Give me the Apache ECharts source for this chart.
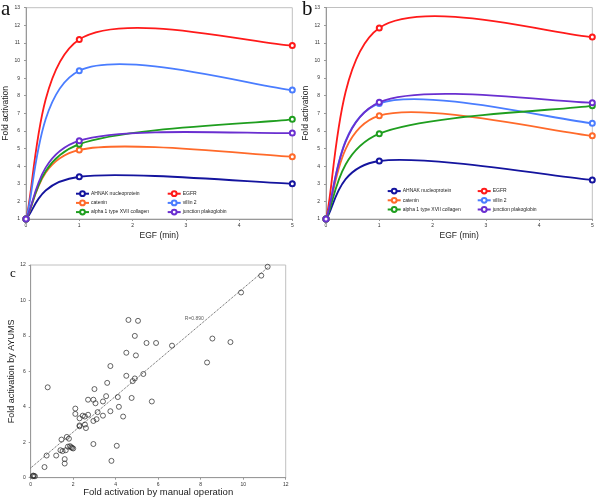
<!DOCTYPE html>
<html>
<head>
<meta charset="utf-8">
<script src="https://cdn.jsdelivr.net/npm/echarts@6/dist/echarts.min.js"></script>
<style>
html, body { margin: 0; padding: 0; background: #fff; }
#main { width: 600px; height: 502px; }
</style>
</head>
<body>
<div id="main"></div>
<script>
// time points (min)
var egfTimes = [0, 1, 5];
var proteins = ['AHNAK nucleoprotein', 'EGFR', 'catenin', 'villin 2', 'alpha 1 type XVII collagen', 'junction plakoglobin'];
var colors = ['#14149e', '#ff1a1a', '#ff6a2a', '#4a7dff', '#1f9e1f', '#6a2fd0'];

// fold activation, panel a (one row per protein, at egfTimes)
var foldA = [
    [1, 3.4, 3.0],
    [1, 11.2, 10.85],
    [1, 4.92, 4.54],
    [1, 9.42, 8.32],
    [1, 5.25, 6.66],
    [1, 5.45, 5.88]
];
// panel b
var foldB = [
    [1, 4.29, 3.21],
    [1, 11.84, 11.33],
    [1, 6.86, 5.72],
    [1, 7.56, 6.43],
    [1, 5.84, 7.42],
    [1, 7.62, 7.6]
];

// panel c: manual operation vs AYUMS
var manualOp = [0.8, 4.6, 5.05, 4.9, 5.45, 5.9, 6.65, 4.5, 4.95, 3.75, 4.5, 5.3, 3.6, 4.9, 4.8, 3.0,
    3.55, 2.7, 2.95, 3.05, 3.4, 4.1, 4.75, 5.7, 4.15, 2.1, 2.1, 2.7, 3.15, 3.75, 3.4, 4.35, 2.45,
    2.55, 2.3, 2.3, 2.55, 2.3, 2.6, 2.95, 3.1, 1.45, 1.7, 1.8, 2.95, 4.05, 3.8, 1.4, 1.5, 1.65,
    1.75, 1.85, 1.9, 2.0, 1.95, 1.2, 0.75, 0.65, 1.6, 1.6, 0.1, 0.15, 0.2, 0.12, 10.85, 11.15,
    9.9, 8.55, 9.4, 8.3];
var ayums = [5.1, 8.9, 8.85, 8.0, 7.6, 7.6, 7.45, 7.05, 6.9, 6.3, 5.75, 5.85, 5.35, 5.6, 5.45, 5.0,
    4.6, 4.4, 4.4, 4.2, 4.3, 4.55, 4.5, 4.3, 4.0, 3.9, 3.6, 3.55, 3.7, 3.75, 3.5, 3.45, 3.5,
    3.45, 3.35, 2.95, 3.0, 2.9, 2.8, 3.2, 3.3, 2.15, 2.3, 2.2, 1.9, 1.8, 0.95, 1.55, 1.5, 1.55,
    1.75, 1.78, 1.72, 1.65, 1.68, 1.25, 1.25, 0.6, 1.05, 0.8, 0.08, 0.1, 0.08, 0.12, 11.4, 11.9,
    10.45, 7.85, 7.65, 6.5];
var fitLine = [[0, 0.55], [11.2, 11.9]];
var fitLabel = 'R=0.890';
var fitLabelAt = [7.7, 8.95];

var FONT = '"Liberation Sans", Arial, sans-serif';
var chart = echarts.init(document.getElementById('main'));

// excel-like smoothed curve through the points of one protein
function curveRenderer(ys, color) {
    return function (params, api) {
        if (params.dataIndex !== 0) return;
        var p = egfTimes.map(function (x, i) { return api.coord([x, ys[i]]); });
        var d = 'M' + p[0][0] + ' ' + p[0][1];
        for (var i = 0; i < p.length - 1; i++) {
            var a = p[i - 1] || p[i], b = p[i], c = p[i + 1], e = p[i + 2] || p[i + 1];
            var c1x = b[0] + (c[0] - a[0]) / 6, c1y = b[1] + (c[1] - a[1]) / 6;
            var c2x = c[0] - (e[0] - b[0]) / 6, c2y = c[1] - (e[1] - b[1]) / 6;
            d += ' C' + c1x + ' ' + c1y + ' ' + c2x + ' ' + c2y + ' ' + c[0] + ' ' + c[1];
        }
        return {
            type: 'path',
            shape: { pathData: d },
            style: { fill: null, stroke: color, lineWidth: 1.8 }
        };
    };
}

function axisBase(min, max, interval, name, nameGap, nameSize, labelSize, labelMargin) {
    return {
        type: 'value', min: min, max: max, interval: interval,
        name: name, nameLocation: 'middle', nameGap: nameGap,
        nameTextStyle: { fontSize: nameSize, fontFamily: FONT, color: '#222' },
        axisLine: { lineStyle: { color: '#999', width: 1 } },
        axisTick: { show: true, length: 2, lineStyle: { color: '#999' } },
        axisLabel: { fontSize: labelSize, fontFamily: FONT, color: '#333', margin: labelMargin },
        splitLine: { show: false }
    };
}

function legendCol(names, left, top) {
    return {
        data: names, left: left, top: top, orient: 'vertical', padding: 0,
        itemWidth: 13, itemHeight: 6, itemGap: 2.4, selectedMode: false,
        lineStyle: { width: 2, opacity: 1 },
        itemStyle: { borderWidth: 0.8 },
        textStyle: { fontSize: 5, fontFamily: FONT, color: '#222', padding: [0, 0, 0, -3] }
    };
}

var series = [];
[foldA, foldB].forEach(function (fold, g) {
    fold.forEach(function (ys, k) {
        var pts = egfTimes.map(function (x, i) { return [x, ys[i]]; });
        series.push({
            type: 'custom', xAxisIndex: g, yAxisIndex: g, z: 2,
            renderItem: curveRenderer(ys, colors[k]),
            data: pts, silent: true
        });
        series.push({
            name: proteins[k], type: 'line', xAxisIndex: g, yAxisIndex: g, z: 3,
            data: pts, symbol: 'emptyCircle', symbolSize: 5,
            itemStyle: { color: colors[k], borderWidth: 0.8 },
            lineStyle: { opacity: 0, width: 2 },
            color: colors[k]
        });
    });
});

series.push({
    type: 'line', xAxisIndex: 2, yAxisIndex: 2, data: fitLine, symbol: 'none', z: 1,
    lineStyle: { type: 'dotted', color: '#555', width: 1 }
});
series.push({
    type: 'scatter', xAxisIndex: 2, yAxisIndex: 2, z: 3,
    data: manualOp.map(function (x, i) { return [x, ayums[i]]; }),
    symbol: 'circle', symbolSize: 5,
    itemStyle: { color: 'rgba(0,0,0,0)', borderColor: '#2a2a2a', borderWidth: 0.9 }
});
series.push({
    type: 'scatter', xAxisIndex: 2, yAxisIndex: 2, data: [fitLabelAt], symbolSize: 0,
    label: { show: true, position: 'inside', formatter: fitLabel, fontSize: 5, fontFamily: FONT, color: '#333' }
});

chart.setOption({
    animation: false,
    backgroundColor: '#fff',
    title: [
        { text: 'a', left: 1, top: -1, padding: 0, textStyle: { fontSize: 21, fontWeight: 'normal', fontFamily: '"Liberation Serif", serif', color: '#111' } },
        { text: 'b', left: 302, top: -1, padding: 0, textStyle: { fontSize: 21, fontWeight: 'normal', fontFamily: '"Liberation Serif", serif', color: '#111' } },
        { text: 'c', left: 10, top: 267, padding: 0, textStyle: { fontSize: 13, fontWeight: 'normal', fontFamily: '"Liberation Serif", serif', color: '#111' } }
    ],
    grid: [
        { left: 26, right: 307.7, top: 7.7, bottom: 283, show: true, borderColor: '#c0c0c0', borderWidth: 1 },
        { left: 326, right: 7.7, top: 7.5, bottom: 283, show: true, borderColor: '#c0c0c0', borderWidth: 1 },
        { left: 30.7, right: 314.3, top: 265, bottom: 24.3, show: true, borderColor: '#c0c0c0', borderWidth: 1 }
    ],
    xAxis: [
        Object.assign(axisBase(0, 5, 1, 'EGF (min)', 12.5, 8.5, 5, 4), { gridIndex: 0 }),
        Object.assign(axisBase(0, 5, 1, 'EGF (min)', 12.5, 8.5, 5, 4), { gridIndex: 1 }),
        Object.assign(axisBase(0, 12, 2, 'Fold activation by manual operation', 7.5, 9.5, 5, 4), { gridIndex: 2 })
    ],
    yAxis: [
        Object.assign(axisBase(1, 13, 1, 'Fold activation', 11, 8.5, 5, 6), { gridIndex: 0 }),
        Object.assign(axisBase(1, 13, 1, 'Fold activation', 11, 8.5, 5, 6), { gridIndex: 1 }),
        Object.assign(axisBase(0, 12, 2, 'Fold activation by AYUMS', 11.5, 9, 5, 5), { gridIndex: 2 })
    ],
    legend: [
        legendCol([proteins[0], proteins[2], proteins[4]], 75, 190.3),
        legendCol([proteins[1], proteins[3], proteins[5]], 166.7, 190.3),
        legendCol([proteins[0], proteins[2], proteins[4]], 386.7, 187.7),
        legendCol([proteins[1], proteins[3], proteins[5]], 476.7, 187.7)
    ],
    series: series
});
</script>
</body>
</html>
